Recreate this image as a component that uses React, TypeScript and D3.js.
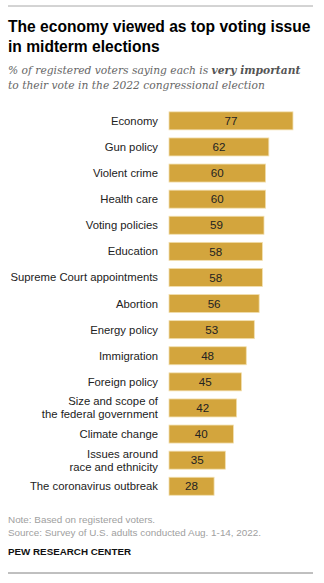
import React from "react";
import * as d3 from "d3";

const categories: string[][] = [
  ["Economy"],
  ["Gun policy"],
  ["Violent crime"],
  ["Health care"],
  ["Voting policies"],
  ["Education"],
  ["Supreme Court appointments"],
  ["Abortion"],
  ["Energy policy"],
  ["Immigration"],
  ["Foreign policy"],
  ["Size and scope of", "the federal government"],
  ["Climate change"],
  ["Issues around", "race and ethnicity"],
  ["The coronavirus outbreak"],
];
const values: number[] = [77, 62, 60, 60, 59, 58, 58, 56, 53, 48, 45, 42, 40, 35, 28];

const W = 324;
const H = 583;
const sans = "'Liberation Sans', Arial, sans-serif";

export default function App() {
  const x = d3.scaleLinear().domain([0, 100]).range([169, 330]);
  const y = d3
    .scaleBand<number>()
    .domain(d3.range(values.length))
    .range([107.8, 499.3])
    .paddingInner(0.31)
    .paddingOuter(0.155);
  const bh = y.bandwidth();
  return (
    <svg
      width={W}
      height={H}
      style={{ position: "absolute", left: 0, top: 0, background: "#fff" }}
    >
      <line x1={8} x2={313} y1={6} y2={6} stroke="#a8a8a8" strokeWidth={1} />
      <text fontFamily={sans} fontWeight="bold" fontSize={15.6} fill="#000">
        <tspan x={8} y={32}>The economy viewed as top voting issue</tspan>
        <tspan x={8} y={52}>in midterm elections</tspan>
      </text>
      <text
        fontFamily="'DejaVu Serif', Georgia, serif"
        fontStyle="italic"
        fontSize={10.7}
        fill="#666"
      >
        <tspan x={8} y={74}>
          % of registered voters saying each is{" "}
          <tspan fontWeight="bold" fill="#555">very important</tspan>
        </tspan>
        <tspan x={8} y={89}>to their vote in the 2022 congressional election</tspan>
      </text>
      {values.map((v, i) => {
        const y0 = y(i)!;
        const cy = y0 + bh / 2;
        const lines = categories[i];
        return (
          <g key={i}>
            <rect
              x={x(0)}
              y={y0}
              width={x(v) - x(0)}
              height={bh}
              fill="#D3A53D"
              stroke="#F2DFAE"
              strokeWidth={0.8}
            />
            <text
              x={(x(0) + x(v)) / 2}
              y={cy + 4.2}
              textAnchor="middle"
              fontFamily={sans}
              fontSize={11.6}
              fill="#222"
            >
              {v}
            </text>
            {lines.map((l, j) => (
              <text
                key={j}
                x={158}
                y={cy + 4 + (j - (lines.length - 1) / 2) * 13}
                textAnchor="end"
                fontFamily={sans}
                fontSize={11.3}
                fill="#222"
              >
                {l}
              </text>
            ))}
          </g>
        );
      })}
      <text fontFamily={sans} fontSize={9.9} fill="#a0a0a0">
        <tspan x={8} y={522.5}>Note: Based on registered voters.</tspan>
        <tspan x={8} y={536}>Source: Survey of U.S. adults conducted Aug. 1-14, 2022.</tspan>
      </text>
      <text x={8} y={555} fontFamily={sans} fontSize={9.8} fontWeight="bold" fill="#111">
        PEW RESEARCH CENTER
      </text>
      <line x1={8} x2={313} y1={573} y2={573} stroke="#808080" strokeWidth={1} />
    </svg>
  );
}
